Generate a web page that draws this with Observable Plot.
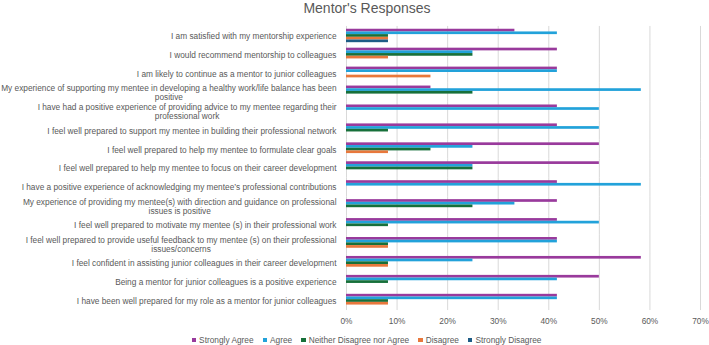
<!DOCTYPE html>
<html>
<head>
<meta charset="utf-8">
<script src="https://cdn.jsdelivr.net/npm/d3@7"></script>
<script src="https://cdn.jsdelivr.net/npm/@observablehq/plot@0.6"></script>
<style>
  html, body { margin: 0; padding: 0; background: #fff; }
  body { width: 709px; height: 345px; overflow: hidden; font-family: "Liberation Sans", Arial, sans-serif; color: #595959; }
  #title { height: 20px; line-height: 14px; font-size: 14px; text-align: center; padding-top: 1px; padding-left: 25px; box-sizing: border-box; }
  #chart svg { display: block; }
  #legend { display: flex; justify-content: center; align-items: center; gap: 9px; font-size: 8.3px; line-height: 10px; height: 15px; padding-top: 5px; padding-left: 24px; box-sizing: border-box; }
  #legend .item { display: flex; align-items: center; gap: 3px; }
  #legend .sw { width: 4.5px; height: 4.5px; display: inline-block; }
</style>
</head>
<body>
<div id="title">Mentor's Responses</div>
<div id="chart"></div>
<div id="legend"></div>
<script>
// Survey statements, top to bottom (line breaks as the labels wrap)
const questions = [
  "I am satisfied with my mentorship experience",
  "I would recommend mentorship to colleagues",
  "I am likely to continue as a mentor to junior colleagues",
  "My experience of supporting my mentee in developing a healthy work/life balance has been\npositive",
  "I have had a positive experience of providing advice to my mentee regarding their\nprofessional work",
  "I feel well prepared to support my mentee in building their professional network",
  "I feel well prepared to help my mentee to formulate clear goals",
  "I feel well prepared to help my mentee to focus on their career development",
  "I have a positive experience of acknowledging my mentee\u2019s professional contributions",
  "My experience of providing my mentee(s) with direction and guidance on professional\nissues is positive",
  "I feel well prepared to motivate my mentee (s) in their professional work",
  "I feel well prepared to provide useful feedback to my mentee (s) on their professional\nissues/concerns",
  "I feel confident in assisting junior colleagues in their career development",
  "Being a mentor for junior colleagues is a positive experience",
  "I have been well prepared for my role as a mentor for junior colleagues"
];

const responses = ["Strongly Agree", "Agree", "Neither Disagree nor Agree", "Disagree", "Strongly Disagree"];
const palette = ["#993a9c", "#22a2da", "#17703a", "#e8783c", "#1e5c86"];

// Share of mentors (%) per statement, one array per response
const stronglyAgree    = [33.3, 41.7, 41.7, 16.7, 41.7, 41.7, 50, 50, 41.7, 41.7, 41.7, 41.7, 58.3, 50, 41.7];
const agree            = [41.7, 25, 41.7, 58.3, 50, 50, 25, 25, 58.3, 33.3, 50, 41.7, 25, 41.7, 41.7];
const neither          = [8.3, 25, 0, 25, 0, 8.3, 16.7, 25, 0, 25, 8.3, 8.3, 8.3, 8.3, 8.3];
const disagree         = [8.3, 8.3, 16.7, 0, 0, 0, 8.3, 0, 0, 0, 0, 8.3, 8.3, 0, 8.3];
const stronglyDisagree = [8.3, 0, 0, 0, 0, 0, 0, 0, 0, 0, 0, 0, 0, 0, 0];

const xTicks = [0, 10, 20, 30, 40, 50, 60, 70];

const series = [stronglyAgree, agree, neither, disagree, stronglyDisagree];
const rows = questions.flatMap((question, i) =>
  responses.map((response, j) => ({question, response, value: series[j][i]}))
);

const chart = Plot.plot({
  width: 709,
  height: 310,
  marginTop: 6,
  marginBottom: 20,
  marginLeft: 346,
  marginRight: 9,
  style: {fontFamily: "'Liberation Sans', Arial, sans-serif", fontSize: "8.3px", color: "#595959", background: "#fff"},
  x: {domain: [0, 70]},
  y: {domain: responses, padding: 0, round: false, axis: null},
  fy: {domain: questions, paddingInner: 0.29, paddingOuter: 0.145, round: false},
  color: {domain: responses, range: palette},
  marks: [
    // gridlines repeat per facet; negative insets close the gaps between facets
    Plot.ruleX(xTicks, {stroke: "#d9d9d9", strokeWidth: 1, insetTop: -2.8, insetBottom: -2.8}),
    Plot.barX(rows, {fy: "question", y: "response", x: "value", fill: "response"}),
    Plot.axisFy({anchor: "left", tickSize: 0, tickPadding: 10, label: null, lineHeight: 1.12}),
    Plot.axisX({ticks: xTicks, tickFormat: d => `${d}%`, tickSize: 0, tickPadding: 10, label: null})
  ]
});
document.getElementById("chart").append(chart);

// Wrapped statement labels: right-aligned block, each line centred within it
chart.querySelectorAll('g[aria-label="fy-axis tick label"] text').forEach(t => {
  const spans = [...t.querySelectorAll("tspan")];
  if (spans.length < 2) return;
  const w = Math.max(...spans.map(s => s.getComputedTextLength()));
  t.setAttribute("text-anchor", "middle");
  spans.forEach(s => s.setAttribute("x", -w / 2));
});

// Legend
const legend = document.getElementById("legend");
responses.forEach((r, i) => {
  const item = document.createElement("span");
  item.className = "item";
  const sw = document.createElement("span");
  sw.className = "sw";
  sw.style.background = palette[i];
  item.append(sw, document.createTextNode(r));
  legend.append(item);
});
</script>
</body>
</html>
